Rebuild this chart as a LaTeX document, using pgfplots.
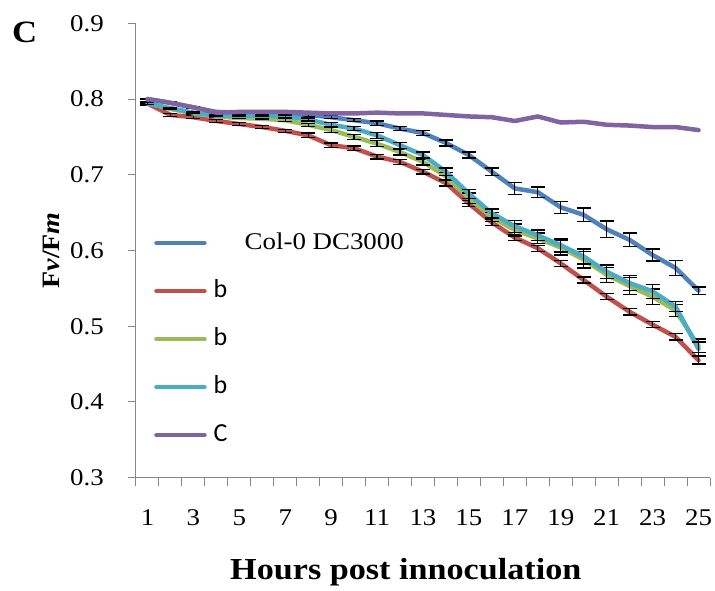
\documentclass[border=0pt]{standalone}
\usepackage{fontspec}
\setmainfont{Liberation Serif}[FakeStretch=1.12]
\newfontfamily\carlito{Carlito}
\usepackage{pgfplots}
\usepackage{pgfplotstable}
\pgfplotsset{compat=1.18}

\definecolor{colzero}{HTML}{4F81BD}
\definecolor{lineB}{HTML}{C0504D}
\definecolor{lineC}{HTML}{9BBB59}
\definecolor{lineD}{HTML}{4BACC6}
\definecolor{lineE}{HTML}{8064A2}
\definecolor{axisgray}{HTML}{868686}

% Fv/Fm per hour: mean (v) and standard error (e)
\pgfplotstableread{
h v e
1 0.800 0.001
2 0.795 0.001
3 0.789 0.001
4 0.783 0.001
5 0.782 0.001
6 0.782 0.001
7 0.781 0.001
8 0.779 0.002
9 0.776 0.002
10 0.772 0.002
11 0.768 0.003
12 0.761 0.003
13 0.755 0.003
14 0.742 0.004
15 0.726 0.004
16 0.704 0.005
17 0.682 0.008
18 0.677 0.007
19 0.657 0.008
20 0.647 0.009
21 0.628 0.011
22 0.614 0.009
23 0.594 0.008
24 0.577 0.010
25 0.547 0.005
}\colzerodata

\pgfplotstableread{
h v e
1 0.794 0.002
2 0.779 0.002
3 0.776 0.002
4 0.771 0.002
5 0.767 0.002
6 0.763 0.002
7 0.758 0.002
8 0.752 0.003
9 0.739 0.003
10 0.735 0.003
11 0.724 0.003
12 0.717 0.003
13 0.704 0.003
14 0.689 0.004
15 0.662 0.004
16 0.637 0.004
17 0.617 0.004
18 0.603 0.004
19 0.583 0.004
20 0.561 0.004
21 0.539 0.004
22 0.519 0.004
23 0.502 0.004
24 0.486 0.004
25 0.455 0.005
}\seriesB

\pgfplotstableread{
h v e
1 0.795 0.001
2 0.787 0.001
3 0.781 0.001
4 0.777 0.001
5 0.775 0.001
6 0.774 0.001
7 0.772 0.002
8 0.766 0.002
9 0.759 0.003
10 0.750 0.003
11 0.741 0.004
12 0.730 0.004
13 0.717 0.004
14 0.698 0.005
15 0.669 0.007
16 0.644 0.006
17 0.627 0.008
18 0.616 0.007
19 0.604 0.010
20 0.588 0.011
21 0.568 0.010
22 0.553 0.011
23 0.539 0.010
24 0.521 0.008
25 0.474 0.009
}\seriesC

\pgfplotstableread{
h v e
1 0.794 0.001
2 0.788 0.001
3 0.782 0.001
4 0.778 0.001
5 0.778 0.001
6 0.778 0.001
7 0.777 0.002
8 0.773 0.002
9 0.766 0.003
10 0.761 0.003
11 0.752 0.004
12 0.739 0.004
13 0.726 0.004
14 0.704 0.005
15 0.675 0.006
16 0.649 0.006
17 0.632 0.008
18 0.620 0.007
19 0.607 0.009
20 0.592 0.010
21 0.572 0.009
22 0.557 0.010
23 0.546 0.009
24 0.526 0.007
25 0.470 0.009
}\seriesD

\pgfplotstableread{
h v
1 0.800
2 0.795
3 0.789
4 0.782
5 0.783
6 0.783
7 0.783
8 0.782
9 0.781
10 0.781
11 0.782
12 0.781
13 0.781
14 0.779
15 0.777
16 0.776
17 0.771
18 0.777
19 0.769
20 0.770
21 0.766
22 0.765
23 0.763
24 0.763
25 0.759
}\seriesE

\begin{document}
\begin{tikzpicture}[font=\fontsize{24}{28}\selectfont]
\useasboundingbox (-136pt,-112.3pt) rectangle (579pt,477.7pt);
\begin{axis}[
  at={(0pt,0pt)}, anchor=south west,
  scale only axis, width=574pt, height=454.4pt,
  xmin=0.5, xmax=25.5, ymin=0.3, ymax=0.9,
  clip=false,
  axis x line*=bottom, axis y line*=left,
  axis line style={draw=axisgray, line width=1pt, -},
  xtick={1,3,...,25},
  minor xtick={0.5,1.5,...,25.5},
  major x tick style={draw=none},
  ytick={0.3,0.4,0.5,0.6,0.7,0.8,0.9},
  tick align=outside,
  major tick length=8pt, minor tick length=8pt,
  tick style={axisgray, line width=1pt},
  /pgf/number format/assume math mode=true,
  yticklabel style={/pgf/number format/fixed, /pgf/number format/precision=1,
    /pgf/number format/fixed zerofill, inner xsep=24pt},
  xticklabel style={inner ysep=24pt},
  ticklabel style={font=\fontsize{24}{28}\selectfont},
  xlabel={Hours post innoculation},
  xlabel style={font=\bfseries\fontsize{30.5}{32}\selectfont,
    at={(axis description cs:0.470,-0.2236)}, anchor=base},
  ylabel={\textbf{F\textit{v}/F\textit{m}}},
  ylabel style={font=\fontsize{25}{28}\selectfont,
    at={(axis description cs:-0.148,0.5)}, anchor=center},
  every axis plot/.append style={line width=4.5pt, line join=round, line cap=round, no marks},
  legend image code/.code={\draw[#1] (0pt,0pt) -- (48pt,0pt);},
  legend cell align=left,
  legend style={draw=none, fill=none, inner sep=0pt, row sep=26pt, column sep=7pt,
    nodes={inner sep=0pt, text height=17pt, text depth=5pt},
    at={(axis description cs:0.0314,0.5407)}, anchor=north west},
  err/.style={error bars/.cd, y dir=both, y explicit,
    error bar style={black, line width=1.3pt, line cap=butt},
    error mark options={black, line width=1.3pt, mark size=7pt, rotate=90}},
]
% mean curves with their standard-error bars
\addplot[colzero, err] table[x=h, y=v, y error=e] {\colzerodata};
\addlegendentry{\hspace{31pt}Col-0 DC3000}
\addplot[lineB, err] table[x=h, y=v, y error=e] {\seriesB};
\addlegendentry{\carlito\fontsize{26}{28}\selectfont b}
\addplot[lineC, err] table[x=h, y=v, y error=e] {\seriesC};
\addlegendentry{\carlito\fontsize{26}{28}\selectfont b}
\addplot[lineD, err] table[x=h, y=v, y error=e] {\seriesD};
\addlegendentry{\carlito\fontsize{26}{28}\selectfont b}
\addplot[lineE] table[x=h, y=v] {\seriesE};
\addlegendentry{\carlito\fontsize{26}{28}\selectfont C}
\end{axis}
\node[anchor=base west, inner sep=0pt, font=\bfseries\fontsize{31}{31}\selectfont] at (-124pt,435pt) {C};
\end{tikzpicture}
\end{document}
